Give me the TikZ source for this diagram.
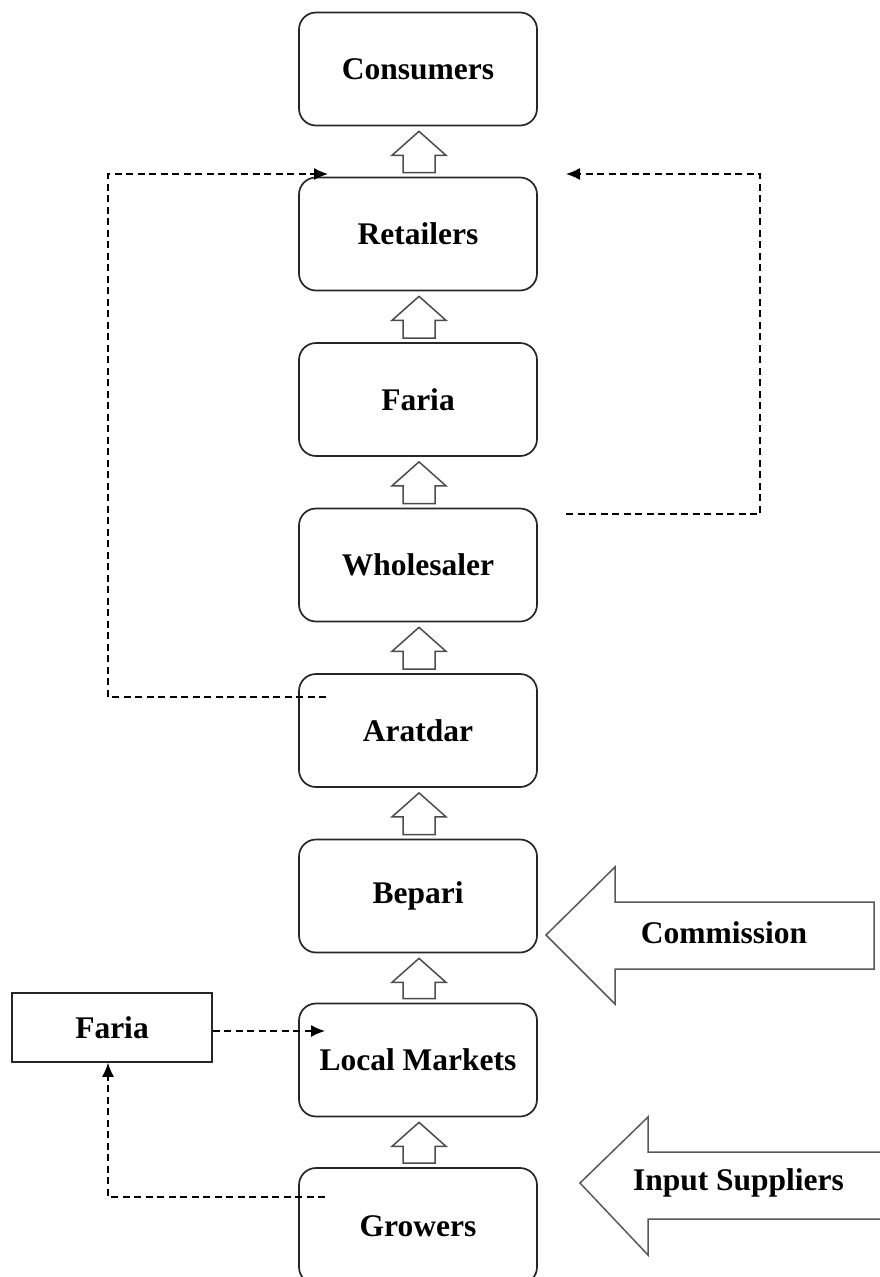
\documentclass[tikz,border=0pt]{standalone}
\usepackage{fontspec}
\setmainfont{Liberation Serif}
\usetikzlibrary{arrows.meta,calc}
\begin{document}
\begin{tikzpicture}[x=1pt,y=-1pt,
  txt/.style={font=\bfseries\fontsize{31.5}{36}\selectfont},
  chainbox/.style={txt, draw=black!85, line width=1.7pt, rounded corners=17pt,
    minimum width=238pt, minimum height=113pt, inner sep=0pt},
  sidebox/.style={txt, draw=black!85, line width=1.6pt,
    minimum width=200pt, minimum height=69pt, inner sep=0pt},
  hollow/.style={draw=black!70, line width=1.5pt, fill=white, line join=miter},
  bigarrow/.style={draw=black!65, line width=1.5pt, fill=white, line join=miter},
  dashlink/.style={draw=black, line width=1.3pt, dash pattern=on 7pt off 4.5pt},
  tipped/.style={-{Latex[length=14pt,width=12pt]}}
]
\useasboundingbox (0,0) rectangle (880,1277);
\clip (0,0) rectangle (880,1277);
\fill[white] (0,0) rectangle (880,1277);

% chain of boxes
\node[chainbox] (cons) at (418,69)    {Consumers};
\node[chainbox] (ret)  at (418,234)   {Retailers};
\node[chainbox] (far)  at (418,399.5) {Faria};
\node[chainbox] (whol) at (418,565)   {Wholesaler};
\node[chainbox] (arat) at (418,730.5) {Aratdar};
\node[chainbox] (bep)  at (418,896)   {Bepari};
\node[chainbox] (lm)   at (418,1060)  {Local Markets};
\node[chainbox, minimum height=116pt] (grow) at (418,1226) {Growers};
\node[sidebox] (fl) at (112,1027.5) {Faria};

% hollow up arrows
\foreach \a/\b in {cons/ret, ret/far, far/whol, whol/arat, arat/bep, bep/lm, lm/grow}{
  \draw[hollow] let \p1=(\a.south), \p2=(\b.north) in
    (\x1+1pt,\y1-5pt) -- (\x1+28pt,\y1-29pt) -- (\x1+17pt,\y1-29pt)
    -- (\x1+17pt,\y2+4pt) -- (\x1-15pt,\y2+4pt) -- (\x1-15pt,\y1-29pt)
    -- (\x1-26pt,\y1-29pt) -- cycle;
}

% big side arrows
\draw[bigarrow] (546,935) -- (615,867) -- (615,902) -- (874,902) -- (874,969)
  -- (615,969) -- (615,1004) -- cycle;
\node[txt] (comm) at (724,933) {Commission};
\draw[bigarrow] (580,1183) -- (648,1117) -- (648,1152) -- (895,1152) -- (895,1219)
  -- (648,1219) -- (648,1255) -- cycle;
\node[txt] (inp) at (738.5,1183) {Input Suppliers};

% dashed connectors
\coordinate (aratL) at (326,697);
\coordinate (retL)  at (328,174);
\draw[dashlink,tipped] (aratL) -- (108,697) |- (retL);

\coordinate (wholR) at (566,514);
\coordinate (retR)  at (566,174);
\draw[dashlink,tipped] (wholR) -- (760,514) |- (retR);

\coordinate (growL) at (325,1197);
\draw[dashlink,tipped] (growL) -| ($(fl.south)+(-4,0)$);

\coordinate (lmL) at (325,1031);
\draw[dashlink,tipped] (fl.east |- lmL) -- (lmL);
\end{tikzpicture}
\end{document}
